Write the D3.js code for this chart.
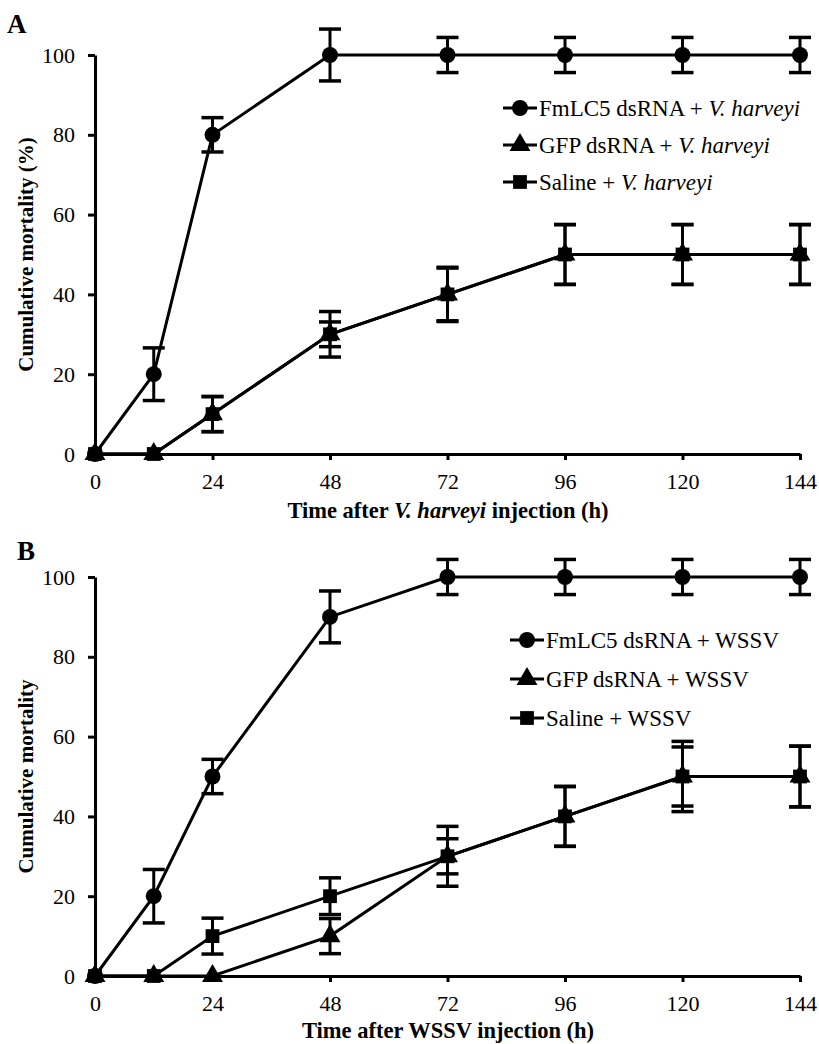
<!DOCTYPE html>
<html>
<head>
  <title>Cumulative mortality</title>
  <style>
    body {
      margin: 0;
      padding: 0;
      background: #fff;
    }
    svg text {
      font-family: "Liberation Serif", "Times New Roman", serif;
      fill: #000;
    }
    .tick text {
      font-size: 22px;
    }
    .title {
      font-size: 21px;
      font-weight: bold;
    }
    .xtitle {
      font-size: 22.5px;
    }
    .panel {
      font-size: 27px;
      font-weight: bold;
    }
    .legend text {
      font-size: 23px;
    }
  </style>
</head>
<body>
  <div id="chart"></div>
  <script src="https://d3js.org/d3.v7.min.js"></script>
  <script>
    // sampling times (h) and axis ticks
    const hours = [0, 12, 24, 48, 72, 96, 120, 144];
    const xTicks = [0, 24, 48, 72, 96, 120, 144];
    const yTicks = [0, 20, 40, 60, 80, 100];

    // panel A - V. harveyi challenge
    const fmlc5VhMean = [0, 20, 80, 100, 100, 100, 100, 100];
    const fmlc5VhErr = [0, 6.6, 4.3, 6.5, 4.4, 4.4, 4.4, 4.4];
    const gfpVhMean = [0, 0, 10, 30, 40, 50, 50, 50];
    const gfpVhErr = [0, 0, 4.4, 5.7, 6.8, 7.5, 7.5, 7.5];
    const salineVhMean = [0, 0, 10, 30, 40, 50, 50, 50];
    const salineVhErr = [0, 0, 4.4, 3.1, 6.6, 7.5, 7.5, 7.5];

    // panel B - WSSV challenge
    const fmlc5WsMean = [0, 20, 50, 90, 100, 100, 100, 100];
    const fmlc5WsErr = [0, 6.7, 4.3, 6.5, 4.4, 4.4, 4.4, 4.4];
    const gfpWsMean = [0, 0, 0, 10, 30, 40, 50, 50];
    const gfpWsErr = [0, 0, 0, 4.4, 7.5, 7.5, 8.8, 7.6];
    const salineWsMean = [0, 0, 10, 20, 30, 40, 50, 50];
    const salineWsErr = [0, 0, 4.5, 4.6, 4.4, 7.5, 7.4, 7.6];

    const labelsA = [
      ["FmLC5 dsRNA + ", "V. harveyi"],
      ["GFP dsRNA + ", "V. harveyi"],
      ["Saline + ", "V. harveyi"]
    ];
    const labelsB = [
      ["FmLC5 dsRNA + WSSV", ""],
      ["GFP dsRNA + WSSV", ""],
      ["Saline + WSSV", ""]
    ];

    const shapes = [d3.symbolCircle, d3.symbolTriangle, d3.symbolSquare];
    const shapeSizes = [200, 190, 190];

    const svg = d3.select("#chart")
      .append("svg")
      .attr("width", 819)
      .attr("height", 1044);

    function drawPanel(opt) {
      const x = d3.scaleLinear().domain([0, 144]).range([95, 800]);
      const y = d3.scaleLinear().domain([0, 100]).range([opt.bottom, opt.top]);
      const g = svg.append("g");

      // panel letter
      g.append("text")
        .attr("class", "panel")
        .attr("x", opt.letterX)
        .attr("y", opt.letterY)
        .text(opt.letter);

      // axes
      const xAxis = g.append("g")
        .attr("transform", `translate(0,${opt.bottom})`)
        .call(d3.axisBottom(x).tickValues(xTicks).tickSize(6).tickSizeOuter(0).tickPadding(13));
      const yAxis = g.append("g")
        .attr("transform", "translate(95,0)")
        .call(d3.axisLeft(y).tickValues(yTicks).tickSize(7).tickSizeOuter(0).tickPadding(13));
      [xAxis, yAxis].forEach(a => {
        a.select(".domain").attr("stroke", "#000").attr("stroke-width", 3);
        a.selectAll(".tick line").attr("stroke", "#000").attr("stroke-width", 3);
        a.attr("font-size", null).attr("font-family", null);
      });

      // axis titles
      const xt = g.append("text")
        .attr("class", "title xtitle")
        .attr("x", 448)
        .attr("y", opt.xTitleY)
        .attr("text-anchor", "middle");
      opt.xTitle.forEach(p => {
        xt.append("tspan").attr("font-style", p[1] ? "italic" : null).text(p[0]);
      });

      g.append("text")
        .attr("class", "title")
        .attr("transform", `translate(33,${(opt.top + opt.bottom) / 2}) rotate(-90)`)
        .attr("text-anchor", "middle")
        .text(opt.yTitle);

      const line = d3.line()
        .x((d, i) => x(hours[i]))
        .y(d => y(d));

      // lines
      opt.series.forEach(s => {
        g.append("path")
          .datum(s.mean)
          .attr("d", line)
          .attr("fill", "none")
          .attr("stroke", "#000")
          .attr("stroke-width", 3);
      });

      // error bars
      opt.series.forEach(s => {
        const pts = s.mean.map((m, i) => ({ t: hours[i], m: m, e: s.err[i] })).filter(d => d.e > 0);
        const eb = g.append("g");
        eb.selectAll(".stem").data(pts).enter().append("line")
          .attr("x1", d => x(d.t)).attr("x2", d => x(d.t))
          .attr("y1", d => y(d.m - d.e)).attr("y2", d => y(d.m + d.e))
          .attr("stroke", "#000").attr("stroke-width", 3);
        ["lo", "hi"].forEach(k => {
          eb.selectAll(".cap-" + k).data(pts).enter().append("line")
            .attr("x1", d => x(d.t) - 11).attr("x2", d => x(d.t) + 11)
            .attr("y1", d => y(k === "lo" ? d.m - d.e : d.m + d.e))
            .attr("y2", d => y(k === "lo" ? d.m - d.e : d.m + d.e))
            .attr("stroke", "#000").attr("stroke-width", 3.5);
        });
      });

      // markers
      opt.series.forEach((s, si) => {
        g.selectAll(".m" + si).data(s.mean).enter().append("path")
          .attr("d", d3.symbol().type(shapes[si]).size(shapeSizes[si]))
          .attr("transform", (d, i) => `translate(${x(hours[i])},${y(d)})`)
          .attr("fill", "#000");
      });

      // legend
      const lg = g.append("g").attr("class", "legend");
      opt.labels.forEach((lab, i) => {
        const cy = opt.legendY + i * opt.legendGap;
        lg.append("line")
          .attr("x1", opt.legendX).attr("x2", opt.legendX + 34)
          .attr("y1", cy).attr("y2", cy)
          .attr("stroke", "#000").attr("stroke-width", 3);
        lg.append("path")
          .attr("d", d3.symbol().type(shapes[i]).size(shapeSizes[i]))
          .attr("transform", `translate(${opt.legendX + 17},${cy})`)
          .attr("fill", "#000");
        const t = lg.append("text")
          .attr("x", opt.legendX + 36)
          .attr("y", cy)
          .attr("dy", "0.33em");
        t.append("tspan").text(lab[0]);
        if (lab[1]) t.append("tspan").attr("font-style", "italic").text(lab[1]);
      });
    }

    drawPanel({
      letter: "A", letterX: 7, letterY: 33,
      top: 55, bottom: 454,
      xTitle: [["Time after ", false], ["V. harveyi", true], [" injection (h)", false]],
      xTitleY: 518,
      yTitle: "Cumulative mortality (%)",
      series: [
        { mean: fmlc5VhMean, err: fmlc5VhErr },
        { mean: gfpVhMean, err: gfpVhErr },
        { mean: salineVhMean, err: salineVhErr }
      ],
      labels: labelsA,
      legendX: 503, legendY: 108, legendGap: 37
    });

    drawPanel({
      letter: "B", letterX: 17, letterY: 560,
      top: 577, bottom: 976,
      xTitle: [["Time after WSSV injection (h)", false]],
      xTitleY: 1038,
      yTitle: "Cumulative mortality",
      series: [
        { mean: fmlc5WsMean, err: fmlc5WsErr },
        { mean: gfpWsMean, err: gfpWsErr },
        { mean: salineWsMean, err: salineWsErr }
      ],
      labels: labelsB,
      legendX: 510, legendY: 640, legendGap: 39
    });
  </script>
</body>
</html>
